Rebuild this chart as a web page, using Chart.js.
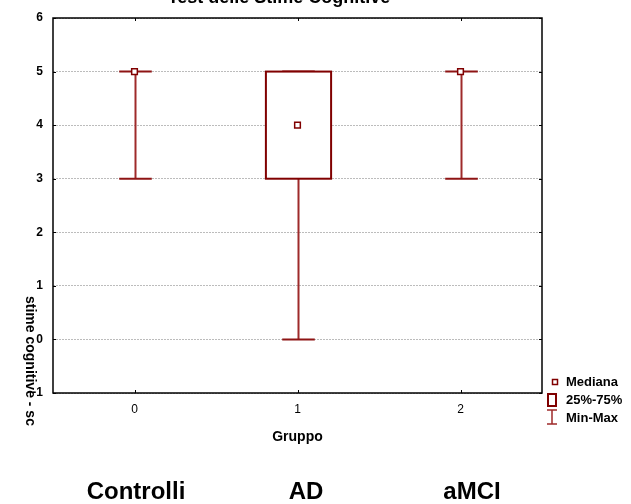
<!DOCTYPE html>
<html lang="it">
<head>
<meta charset="UTF-8"/>
<title>Test delle Stime Cognitive</title>
<style>
    html, body {
        margin: 0;
        background: #fff;
        overflow: hidden;
    }
    #wrap {
        width: 631px;
        height: 504px;
    }
</style>
</head>
<body>
<div id="wrap"><canvas id="boxChart" width="631" height="504"></canvas></div>

<script src="https://cdn.jsdelivr.net/npm/chart.js"></script>
<script>
// data
const groupPos = [0, 1, 2];
const groupNames = ['Controlli', 'AD', 'aMCI'];
const minVals = [3, 0, 3];
const q1Vals = [5, 3, 5];
const medianVals = [5, 4, 5];
const q3Vals = [5, 5, 5];
const maxVals = [5, 5, 5];
const yTicks = [-1, 0, 1, 2, 3, 4, 5, 6];
const xTicks = [0, 1, 2];

const DARK = '#800000';
const WHISK = '#9e2a2a';
const FONT = '"Liberation Sans", Arial, sans-serif';

const boxPlugin = {
    id: 'boxPlugin',
    beforeDatasetsDraw(chart) {
        const {ctx, scales: {x, y}} = chart;
        ctx.save();
        groupPos.forEach((g, i) => {
            const cx = Math.round(x.getPixelForValue(g)) + 0.5;
            const capHalf = x.getPixelForValue(g + 0.1) - x.getPixelForValue(g);
            const boxHalf = x.getPixelForValue(g + 0.2) - x.getPixelForValue(g);
            const yMin = y.getPixelForValue(minVals[i]);
            const yMax = y.getPixelForValue(maxVals[i]);
            const yQ1 = y.getPixelForValue(q1Vals[i]);
            const yQ3 = y.getPixelForValue(q3Vals[i]);

            // whisker stem
            ctx.strokeStyle = WHISK;
            ctx.lineWidth = 2;
            ctx.beginPath();
            ctx.moveTo(cx, yMin);
            ctx.lineTo(cx, yMax);
            ctx.stroke();

            // caps
            ctx.strokeStyle = '#8e1414';
            ctx.lineWidth = 2;
            ctx.beginPath();
            ctx.moveTo(cx - capHalf, yMin);
            ctx.lineTo(cx + capHalf, yMin);
            ctx.moveTo(cx - capHalf, yMax);
            ctx.lineTo(cx + capHalf, yMax);
            ctx.stroke();

            // box
            if (q3Vals[i] > q1Vals[i]) {
                ctx.fillStyle = '#fff';
                ctx.fillRect(cx - boxHalf, yQ3, boxHalf * 2, yQ1 - yQ3);
                ctx.strokeStyle = DARK;
                ctx.lineWidth = 2;
                ctx.strokeRect(cx - boxHalf, yQ3, boxHalf * 2, yQ1 - yQ3);
            }
        });
        ctx.restore();
    },
    afterDraw(chart) {
        const {ctx, chartArea: a, scales: {x, y}} = chart;
        ctx.save();

        // frame
        ctx.strokeStyle = '#000';
        ctx.lineWidth = 1.5;
        ctx.strokeRect(a.left, a.top, a.right - a.left, a.bottom - a.top);

        // inward tick marks
        ctx.lineWidth = 1;
        ctx.beginPath();
        xTicks.forEach(v => {
            const px = Math.round(x.getPixelForValue(v)) + 0.5;
            ctx.moveTo(px, a.top); ctx.lineTo(px, a.top + 3);
            ctx.moveTo(px, a.bottom); ctx.lineTo(px, a.bottom - 3);
        });
        yTicks.forEach(v => {
            const py = Math.round(y.getPixelForValue(v)) + 0.5;
            ctx.moveTo(a.left, py); ctx.lineTo(a.left + 3, py);
            ctx.moveTo(a.right, py); ctx.lineTo(a.right - 3, py);
        });
        ctx.stroke();

        ctx.fillStyle = '#000';

        // title (cut at the top in the original)
        ctx.font = 'bold 18px ' + FONT;
        ctx.textAlign = 'center';
        ctx.textBaseline = 'alphabetic';
        ctx.fillText('Test delle Stime Cognitive', 279, 3);

        // x axis title
        ctx.font = 'bold 14px ' + FONT;
        ctx.textBaseline = 'middle';
        ctx.fillText('Gruppo', (a.left + a.right) / 2, 437);

        // group names under the chart
        ctx.font = 'bold 24px ' + FONT;
        ctx.textBaseline = 'alphabetic';
        ctx.fillText(groupNames[0], 136, 499);
        ctx.fillText(groupNames[1], 306, 499);
        ctx.fillText(groupNames[2], 472, 499);

        // y axis title, rotated clockwise
        ctx.save();
        ctx.translate(30, 296);
        ctx.rotate(Math.PI / 2);
        ctx.font = 'bold 14px ' + FONT;
        ctx.textAlign = 'left';
        ctx.textBaseline = 'middle';
        ctx.fillText('stime cognitive - sc', 0, 0);
        ctx.restore();

        // legend
        ctx.font = 'bold 13px ' + FONT;
        ctx.textAlign = 'left';
        ctx.textBaseline = 'middle';
        ctx.strokeStyle = DARK;
        ctx.lineWidth = 1.5;
        ctx.fillStyle = '#fff';
        ctx.fillRect(552.5, 379.5, 5, 5);
        ctx.strokeRect(552.5, 379.5, 5, 5);
        ctx.lineWidth = 2;
        ctx.strokeRect(548, 394, 8, 12);
        ctx.strokeStyle = WHISK;
        ctx.lineWidth = 1.5;
        ctx.beginPath();
        ctx.moveTo(552, 410); ctx.lineTo(552, 424);
        ctx.moveTo(547, 410); ctx.lineTo(557, 410);
        ctx.moveTo(547, 424); ctx.lineTo(557, 424);
        ctx.stroke();
        ctx.fillStyle = '#000';
        ctx.fillText('Mediana', 566, 382);
        ctx.fillText('25%-75%', 566, 400);
        ctx.fillText('Min-Max', 566, 418);

        ctx.restore();
    }
};

const ctx = document.getElementById('boxChart').getContext('2d');
new Chart(ctx, {
    type: 'scatter',
    data: {
        datasets: [{
            label: 'Mediana',
            data: groupPos.map((g, i) => ({x: g, y: medianVals[i]})),
            pointStyle: 'rect',
            pointRadius: 4,
            pointBorderWidth: 1.5,
            pointBorderColor: DARK,
            pointBackgroundColor: '#fff'
        }]
    },
    options: {
        responsive: false,
        animation: false,
        events: [],
        layout: {padding: {left: 0, top: 18, right: 89, bottom: 0}},
        plugins: {
            legend: {display: false},
            tooltip: {enabled: false}
        },
        scales: {
            x: {
                type: 'linear',
                min: -0.5,
                max: 2.5,
                afterBuildTicks: s => { s.ticks = xTicks.map(v => ({value: v})); },
                afterFit: s => { s.height = 111; },
                grid: {display: false, drawTicks: false},
                border: {display: false},
                ticks: {
                    padding: 9,
                    color: '#000',
                    font: {family: FONT, size: 12}
                }
            },
            y: {
                min: -1,
                max: 6,
                afterBuildTicks: s => { s.ticks = yTicks.map(v => ({value: v})); },
                afterFit: s => { s.width = 53; },
                grid: {
                    color: '#bcbcbc',
                    lineWidth: 1,
                    drawTicks: false
                },
                border: {display: false, dash: [2, 1]},
                ticks: {
                    padding: 10,
                    color: '#000',
                    font: {family: FONT, size: 12, weight: 'bold'}
                }
            }
        }
    },
    plugins: [boxPlugin]
});
</script>
</body>
</html>
